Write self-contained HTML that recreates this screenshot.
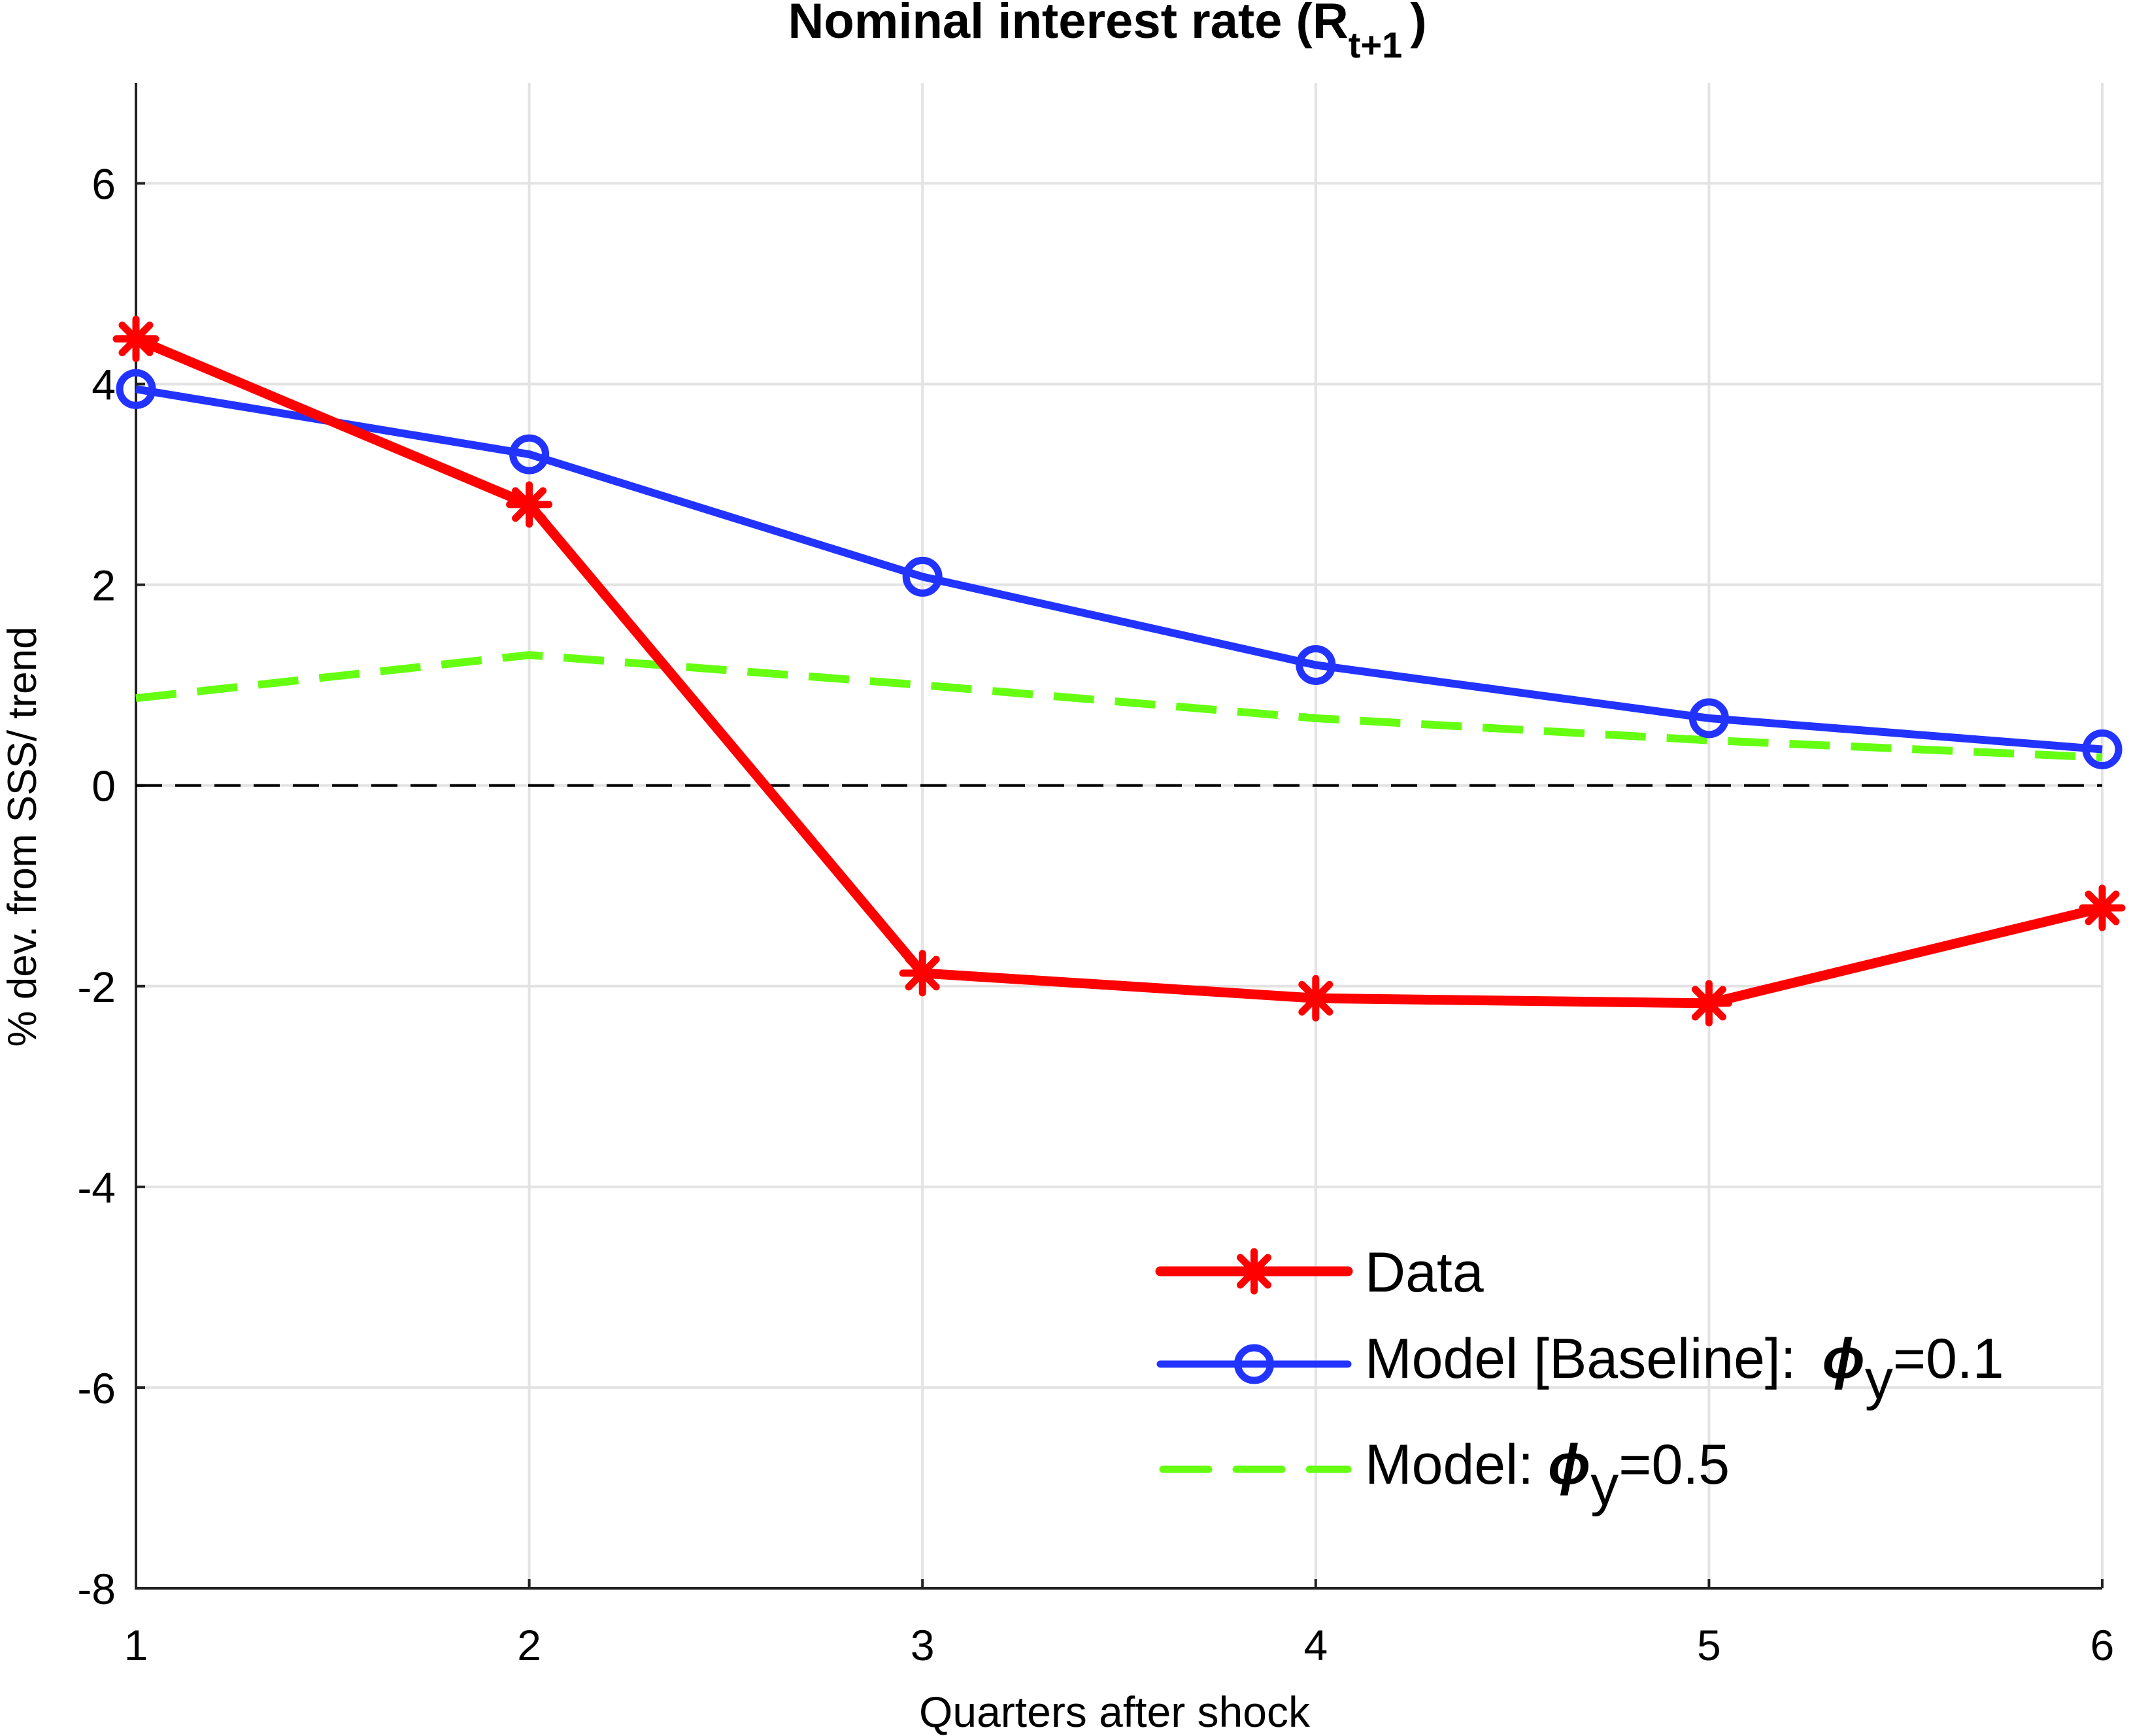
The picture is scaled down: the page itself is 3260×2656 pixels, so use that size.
<!DOCTYPE html>
<html><head><meta charset="utf-8"><style>
html,body{margin:0;padding:0;background:#fff;}
svg{display:block;font-family:"Liberation Sans",Arial,sans-serif;}
</style></head><body>
<svg id="chart" width="3260" height="2656" viewBox="0 0 3260 2656" xmlns="http://www.w3.org/2000/svg">
<g id="grid"></g>
<g id="axes"></g>
<g id="series"></g>
<text x="1694" y="58" font-size="76" font-weight="bold" text-anchor="middle">Nominal interest rate (R<tspan font-size="56" dy="30">t+1</tspan><tspan dy="-30" dx="12">)</tspan></text>
<text x="1705" y="2642" font-size="66" text-anchor="middle">Quarters after shock</text>
<text transform="translate(55,1280) rotate(-90)" font-size="62" text-anchor="middle">% dev. from SSS/ trend</text>
<g id="legend"></g>
</svg>
<script>
const categories = [1, 2, 3, 4, 5, 6];
const dataSeries = [4.45, 2.8, -1.87, -2.12, -2.17, -1.22];
const baselineSeries = [3.95, 3.3, 2.08, 1.2, 0.67, 0.36];
const phi05Series = [0.87, 1.3, 1.0, 0.67, 0.45, 0.28];
const yTicks = [-8, -6, -4, -2, 0, 2, 4, 6];
const xTicks = [1, 2, 3, 4, 5, 6];

const NS = "http://www.w3.org/2000/svg";
const X0 = 208, X1 = 3216, YT = 127, YB = 2430;
const yMin = -8, yMax = 7;
function sx(v){ return X0 + (v - 1) / 5 * (X1 - X0); }
function sy(v){ return YB - (v - yMin) / (yMax - yMin) * (YB - YT); }
function mk(tag, attrs, parent){ const e = document.createElementNS(NS, tag); for (const k in attrs) e.setAttribute(k, attrs[k]); parent.appendChild(e); return e; }

const grid = document.getElementById('grid');
const axes = document.getElementById('axes');
const series = document.getElementById('series');
const legend = document.getElementById('legend');

yTicks.forEach(t => {
  const l = mk('line', {x1: X0, x2: X1, y1: sy(t), y2: sy(t), stroke: '#e3e3e3', 'stroke-width': 4}, grid);
  
  
  const tk = mk('line', {x1: X0, x2: X0 + 14, y1: sy(t), y2: sy(t), stroke: '#222', 'stroke-width': 4}, axes);
  
  
  const tx = mk('text', {x: 177, y: sy(t) + 24, 'font-size': 66, 'text-anchor': 'end'}, axes);
  tx.textContent = t;
  
  
});
xTicks.forEach(t => {
  const l = mk('line', {x1: sx(t), x2: sx(t), y1: YT, y2: YB, stroke: '#e3e3e3', 'stroke-width': 4}, grid);
  
  
  const tk = mk('line', {x1: sx(t), x2: sx(t), y1: YB, y2: YB - 14, stroke: '#222', 'stroke-width': 4}, axes);
  
  
  const tx = mk('text', {x: sx(t), y: 2540, 'font-size': 66, 'text-anchor': 'middle'}, axes);
  tx.textContent = t;
  
  
});
const ax = mk('path', {d: `M${X0},${YT} V${YB} H${X1}`, fill: 'none', stroke: '#222', 'stroke-width': 4}, axes);


const zl = mk('line', {x1: X0, x2: X1, y1: sy(0), y2: sy(0), stroke: '#000', 'stroke-width': 4, 'stroke-dasharray': '40 20'}, axes);



function pts(arr){ return arr.map((v, i) => sx(categories[i]) + ',' + sy(v)).join(' '); }

const g = mk('polyline', {points: pts(phi05Series), fill: 'none', stroke: '#66ff11', 'stroke-width': 12, 'stroke-dasharray': '62 32'}, series);



const b = mk('polyline', {points: pts(baselineSeries), fill: 'none', stroke: '#2233ff', 'stroke-width': 12}, series);


baselineSeries.forEach((v, i) => {
  const c = mk('circle', {cx: sx(categories[i]), cy: sy(v), r: 25, fill: 'none', stroke: '#2233ff', 'stroke-width': 11}, series);
  
  
});

function star(x, y, parent){
  const s = mk('g', {stroke: '#ff0000', 'stroke-width': 11, 'stroke-linecap': 'round'}, parent);
  
  
  const r = 30;
  mk('line', {x1: x, y1: y - r, x2: x, y2: y + r}, s);
  mk('line', {x1: x - r, y1: y, x2: x + r, y2: y}, s);
  mk('line', {x1: x - r*0.7, y1: y - r*0.7, x2: x + r*0.7, y2: y + r*0.7}, s);
  mk('line', {x1: x - r*0.7, y1: y + r*0.7, x2: x + r*0.7, y2: y - r*0.7}, s);
}
const r = mk('polyline', {points: pts(dataSeries), fill: 'none', stroke: '#ff0000', 'stroke-width': 15, 'stroke-linejoin': 'round'}, series);


dataSeries.forEach((v, i) => star(sx(categories[i]), sy(v), series));

// legend
const L0 = 1775, L1 = 2062, TX = 2088;
const e1 = mk('line', {x1: L0, x2: L1, y1: 1945, y2: 1945, stroke: '#ff0000', 'stroke-width': 15, 'stroke-linecap': 'round'}, legend);


star((L0 + L1) / 2, 1945, legend);
const t1 = mk('text', {x: TX, y: 1976, 'font-size': 86}, legend);
t1.textContent = 'Data';



const e2 = mk('line', {x1: L0, x2: L1, y1: 2087, y2: 2087, stroke: '#2233ff', 'stroke-width': 11, 'stroke-linecap': 'round'}, legend);


const c2 = mk('circle', {cx: (L0 + L1) / 2, cy: 2087, r: 25, fill: 'none', stroke: '#2233ff', 'stroke-width': 11}, legend);


const t2 = mk('text', {x: TX, y: 2108, 'font-size': 86}, legend);
t2.innerHTML = 'Model [Baseline]:<tspan dx="40" font-weight="bold" font-style="italic">ϕ</tspan><tspan dy="32">y</tspan><tspan dy="-32">=0.1</tspan>';



const e3 = mk('line', {x1: L0 + 4, x2: L1, y1: 2248, y2: 2248, stroke: '#66ff11', 'stroke-width': 11, 'stroke-dasharray': '70 42', 'stroke-linecap': 'round'}, legend);


const t3 = mk('text', {x: TX, y: 2270, 'font-size': 86}, legend);
t3.innerHTML = 'Model:<tspan dx="22" font-weight="bold" font-style="italic">ϕ</tspan><tspan dy="32">y</tspan><tspan dy="-32">=0.5</tspan>';


</script>
</body></html>
